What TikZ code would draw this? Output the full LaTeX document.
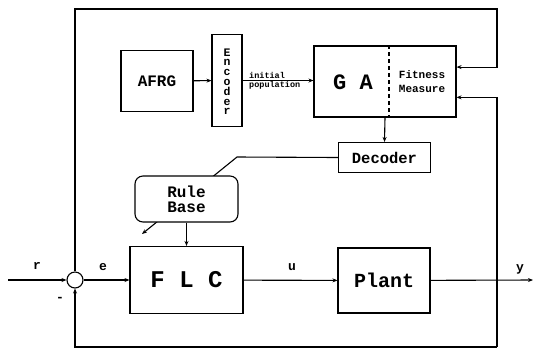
\documentclass[tikz,border=0pt]{standalone}
\usepackage{fontspec}
\setmainfont{Liberation Mono}
\usetikzlibrary{arrows.meta,calc,backgrounds}
\tikzset{
  blk/.style={draw,fill=white,line width=1.1pt,inner sep=0pt,font=\bfseries},
  conn/.style={line width=1.1pt},
  arr/.style={conn,-{Stealth[length=5pt,width=4pt]}},
  lbl/.style={inner sep=0pt,font=\bfseries\fontsize{13}{14}\selectfont},
  encl/.style={inner sep=0pt,font=\bfseries\fontsize{11.5}{12}\selectfont}
}
\begin{document}
\begin{tikzpicture}[x=1pt,y=-1pt]
\useasboundingbox (0,0) rectangle (535,349);
% blocks
\node[blk,minimum width=72pt,minimum height=61pt,font=\bfseries\fontsize{16}{16}\selectfont] (afrg) at (157,81) {AFRG};
\node[blk,minimum width=30pt,minimum height=92pt] (enc) at (227,80.5) {};
\foreach \ch [count=\i] in {E,n,c,o,d,e,r}
  \node[encl,anchor=base] (enc\i) at (227,56+\i*9.8-9.8) {\ch};
\node[blk,minimum width=142pt,minimum height=71pt] (ga) at (385,81.5) {};
\node[inner sep=0pt,font=\bfseries\fontsize{22}{22}\selectfont] (gatxt) at (353,82) {G A};
\node[inner sep=0pt,align=center,font=\bfseries\fontsize{11}{14}\selectfont] (fit) at (422,82) {Fitness\\Measure};
\draw[conn,dashed,dash pattern=on 4pt off 3pt] (ga.north -| 389,0) -- (ga.south -| 389,0);
\node[blk,minimum width=92pt,minimum height=30pt,font=\bfseries\fontsize{15.5}{16}\selectfont] (dec) at (384.5,157.5) {Decoder};
\node[blk,rounded corners=8pt,minimum width=103pt,minimum height=46pt,align=center,font=\bfseries\fontsize{16}{15}\selectfont] (rb) at (186.5,199) {Rule\\Base};
\node[blk,minimum width=113pt,minimum height=67pt,font=\bfseries\fontsize{24}{24}\selectfont] (flc) at (186.5,280) {F L C};
\node[blk,minimum width=92pt,minimum height=65pt,font=\bfseries\fontsize{20}{20}\selectfont] (plant) at (384,280.5) {Plant};
\node[draw,fill=white,circle,line width=1.1pt,minimum size=16pt,inner sep=0pt] (sum) at (75,280) {};
% coordinates
\coordinate (rin) at (8,280);
\coordinate (yout) at (533,280);
\coordinate (yj) at (497,280);
\coordinate (tl) at (75,9);
\coordinate (tr) at (497,9);
\coordinate (br) at (497,347);
\coordinate (fin1) at ($(ga.north east)!0.3!(ga.south east)$);
\coordinate (fin2) at ($(ga.north east)!0.72!(ga.south east)$);
\coordinate (kbend) at (237,157);
\coordinate (kend) at (142,234);
% connectors
\draw[arr] (afrg) -- (enc);
\draw[arr] (enc) -- (enc -| ga.west);
\draw[arr] (ga.south) -- (dec.north);
\draw[arr] (rb) -- (flc);
\draw[arr] (rin) -- (sum);
\draw[arr] (sum) -- (flc);
\draw[arr] (flc) -- (plant);
\draw[arr] (plant) -- (yout);
\draw[arr] (sum.north) -- (tl) -- (tr) |- (fin1);
\draw[arr] (br) -| (sum.south);
\draw[conn] (yj) -- (br);
\draw[arr] (yj) |- (fin2);
\begin{scope}[on background layer]
\draw[arr] (dec.west) -- (kbend) -- (kend);
\end{scope}
% labels
\node[lbl] (lr) at (37,266) {r};
\node[lbl] (lm) at (60,299) {-};
\node[lbl] (le) at (103,267) {e};
\node[lbl] (lu) at (292,267) {u};
\node[lbl] (ly) at (520,269) {y};
\node[inner sep=0pt,anchor=west,font=\bfseries\fontsize{8.5}{9}\selectfont] (li) at (249,75) {initial};
\node[inner sep=0pt,anchor=west,font=\bfseries\fontsize{8.5}{9}\selectfont] (lp) at (249,85.5) {population};
\end{tikzpicture}
\end{document}
